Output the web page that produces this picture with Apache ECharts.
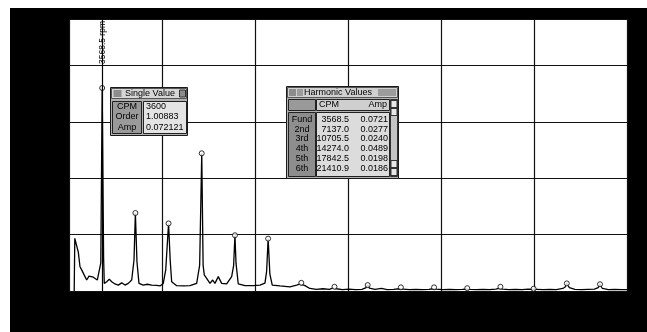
<!DOCTYPE html>
<html>
<head>
<meta charset="utf-8">
<script src="https://cdn.jsdelivr.net/npm/echarts@6/dist/echarts.min.js"></script>
<style>
  html, body { margin: 0; padding: 0; background: #fff; }
  #frame { position: absolute; left: 10px; top: 8px; width: 637px; height: 324px; background: #000; }
  #chart { position: absolute; left: 0; top: 0; width: 647px; height: 332px; }
</style>
</head>
<body>
<div id="frame"></div>
<div id="chart"></div>
<script>
// Vibration spectrum: frequency in CPM, amplitude
const spectrumCpm = [
  560, 624, 828, 1000, 1183, 1365, 1537, 1720, 1903, 2150, 2365, 2612, 2795, 3042, 3257,
  3420, 3568.5, 3720,
  3795, 4053, 4332, 4590, 4945, 5300, 5665, 6020, 6375, 6740, 6990,
  7137, 7310, 7525, 7987, 8417, 8890, 9428, 9782, 10137, 10400,
  10705.5, 10880, 11040, 11578, 12287, 13008, 13728, 14050,
  14274, 14420, 14545, 14803, 15158, 15448, 15695, 16050, 16415, 16953, 17490, 17700,
  17842.5, 17960, 18200, 18920, 19812, 20533, 21070, 21250,
  21410.9, 21600, 21855, 22680, 23758, 24478, 24780,
  24979.5, 25150, 25370, 25900, 26600, 27300, 28000, 28350,
  28548, 28750, 29400, 30100, 30800, 31500, 31950,
  32116.5, 32300, 32900, 33600, 34200, 34900, 35500,
  35685, 35900, 36600, 37300, 38000, 38700, 39100,
  39253.5, 39450, 40200, 40900, 41600, 42300, 42650,
  42822, 43100, 43800, 44500, 45200, 45900, 46200,
  46390.5, 46650, 47300, 48000, 48700, 49400, 49800,
  49959, 50300, 51000, 51700, 52400, 53100, 53350,
  53527.5, 53800, 54400, 55100, 55800, 56500, 56900,
  57096, 57350, 58000, 58700, 59400, 60000
];
const spectrumAmp = [
  0, 0.0187, 0.0160, 0.0138, 0.0086, 0.0075, 0.0069, 0.0051, 0.0039, 0.0053, 0.0060, 0.0049, 0.0053, 0.0039, 0.0033,
  0.0100, 0.0721, 0.0120,
  0.0027, 0.0033, 0.0042, 0.0033, 0.0025, 0.0021, 0.0029, 0.0021, 0.0027, 0.0039, 0.0110,
  0.0277, 0.0103, 0.0027, 0.0021, 0.0024, 0.0021, 0.0020, 0.0018, 0.0027, 0.0075,
  0.0240, 0.0110, 0.0033, 0.0019, 0.0018, 0.0019, 0.0027, 0.0092,
  0.0489, 0.0092, 0.0057, 0.0045, 0.0027, 0.0039, 0.0027, 0.0051, 0.0027, 0.0025, 0.0051, 0.0090,
  0.0198, 0.0098, 0.0025, 0.0019, 0.0019, 0.0021, 0.0028, 0.0070,
  0.0186, 0.0060, 0.0021, 0.0018, 0.0015, 0.0021, 0.0024,
  0.0029, 0.0022, 0.0019, 0.0009, 0.0006, 0.0008, 0.0006, 0.0010,
  0.0015, 0.0008, 0.0005, 0.0007, 0.0005, 0.0006, 0.0012,
  0.0021, 0.0010, 0.0006, 0.0009, 0.0005, 0.0006, 0.0008,
  0.0013, 0.0007, 0.0005, 0.0006, 0.0005, 0.0006, 0.0008,
  0.0013, 0.0007, 0.0005, 0.0006, 0.0005, 0.0006, 0.0007,
  0.0010, 0.0006, 0.0005, 0.0006, 0.0005, 0.0007, 0.0009,
  0.0015, 0.0007, 0.0005, 0.0006, 0.0005, 0.0007, 0.0006,
  0.0008, 0.0006, 0.0005, 0.0006, 0.0005, 0.0009, 0.0014,
  0.0027, 0.0012, 0.0006, 0.0005, 0.0006, 0.0007, 0.0012,
  0.0024, 0.0009, 0.0005, 0.0006, 0.0005, 0.0005
];

// Harmonic markers (orders 1..16)
const harmonicCpm = [3568.5, 7137, 10705.5, 14274, 17842.5, 21410.9, 24979.5, 28548,
  32116.5, 35685, 39253.5, 42822, 46390.5, 49959, 53527.5, 57096];
const harmonicAmp = [0.0721, 0.0277, 0.0240, 0.0489, 0.0198, 0.0186, 0.0029, 0.0015,
  0.0021, 0.0013, 0.0013, 0.0010, 0.0015, 0.0008, 0.0027, 0.0024];

const cursorCpm = 3568.5;
const cursorText = '3568.5 rpm';

// Single value readout
const singleTitle = 'Single Value';
const singleLabels = ['CPM', 'Order', 'Amp'];
const singleValues = ['3600', '1.00883', '0.072121'];

// Harmonic readout table
const harmonicTitle = 'Harmonic Values';
const harmonicHeaders = ['CPM', 'Amp'];
const harmonicNames = ['Fund', '2nd', '3rd', '4th', '5th', '6th'];
const harmonicCpmText = ['3568.5', '7137.0', '10705.5', '14274.0', '17842.5', '21410.9'];
const harmonicAmpText = ['0.0721', '0.0277', '0.0240', '0.0489', '0.0198', '0.0186'];

const FONT = '"Liberation Sans Narrow", "Liberation Sans", Arial, sans-serif';

function rect(x, y, w, h, fill, stroke) {
  return { type: 'rect', z: 100, silent: true,
    shape: { x: x, y: y, width: w, height: h },
    style: { fill: fill, stroke: stroke || null, lineWidth: 1 } };
}
function text(x, y, str, align, size) {
  return { type: 'text', z: 101, silent: true, x: x, y: y,
    style: { text: str, fill: '#000', fontSize: size || 9, fontFamily: FONT,
      align: align || 'left', verticalAlign: 'middle' } };
}

const graphics = [];
// Single Value panel
graphics.push(rect(110.5, 87.5, 77, 48, '#b2b2b2', '#1a1a1a'));
graphics.push(rect(111.5, 88.5, 75, 10, '#d6d6d6', '#555'));
graphics.push(rect(113.5, 90, 8, 7, '#8c8c8c', null));
graphics.push(rect(179.5, 90, 6, 7, '#8c8c8c', '#333'));
graphics.push(text(150, 93.8, singleTitle, 'center', 9));
graphics.push(rect(112.5, 101.5, 29, 32, '#9a9a9a', '#222'));
graphics.push(rect(143.5, 101.5, 43, 32, '#e4e4e4', '#222'));
singleLabels.forEach(function (s, i) {
  graphics.push(text(127, 106.5 + i * 10.5, s, 'center', 9));
  graphics.push(text(146, 106.5 + i * 10.5, singleValues[i], 'left', 9));
});

// Harmonic Values panel
graphics.push(rect(286.5, 86.5, 112, 92, '#b2b2b2', '#1a1a1a'));
graphics.push(rect(287.5, 87.5, 110, 10, '#d0d0d0', '#555'));
graphics.push(rect(289, 89, 7, 7, '#8c8c8c', null));
graphics.push(rect(297, 89, 6, 7, '#9c9c9c', null));
graphics.push(rect(378, 89, 18, 7, '#9c9c9c', null));
graphics.push(text(338, 92.8, harmonicTitle, 'center', 9));
graphics.push(rect(288.5, 99.5, 27, 11, '#9a9a9a', '#222'));
graphics.push(rect(316.5, 99.5, 73, 11, '#cfcfcf', '#222'));
graphics.push(text(319, 105, harmonicHeaders[0], 'left', 9));
graphics.push(text(387, 105, harmonicHeaders[1], 'right', 9));
graphics.push(rect(288.5, 112.5, 27, 64, '#8e8e8e', '#222'));
graphics.push(rect(316.5, 112.5, 73, 64, '#dcdcdc', '#222'));
graphics.push(rect(390.5, 99.5, 7, 77, '#c4c4c4', '#333'));
graphics.push(rect(391, 100.5, 6, 7, '#e8e8e8', '#333'));
graphics.push(rect(391, 108.5, 6, 7, '#e8e8e8', '#333'));
graphics.push(rect(391, 160.5, 6, 7, '#e8e8e8', '#333'));
graphics.push(rect(391, 168.5, 6, 7, '#e8e8e8', '#333'));
harmonicNames.forEach(function (s, i) {
  const yy = 119.3 + i * 9.8;
  graphics.push(text(302, yy, s, 'center', 9));
  graphics.push(text(349, yy, harmonicCpmText[i], 'right', 9));
  graphics.push(text(388, yy, harmonicAmpText[i], 'right', 9));
});

const chart = echarts.init(document.getElementById('chart'), null, { renderer: 'canvas' });
chart.setOption({
  animation: false,
  backgroundColor: 'transparent',
  grid: { left: 69, top: 19, width: 558, height: 272, show: true,
    backgroundColor: '#fff', borderWidth: 0 },
  xAxis: {
    type: 'value', min: 0, max: 60000, interval: 10000,
    axisLine: { show: false }, axisTick: { show: false }, axisLabel: { show: false },
    splitLine: { show: true, lineStyle: { color: '#111', width: 1.2 } }
  },
  yAxis: {
    type: 'value', min: 0, max: 0.0966, interval: 0.02,
    axisLine: { show: false }, axisTick: { show: false }, axisLabel: { show: false },
    splitLine: { show: true, lineStyle: { color: '#111', width: 1.2 } }
  },
  series: [
    {
      type: 'line',
      data: spectrumCpm.map(function (c, i) { return [c, spectrumAmp[i]]; }),
      showSymbol: false,
      symbol: 'none',
      lineStyle: { color: '#000', width: 1.3 },
      silent: true,
      markLine: {
        silent: true,
        symbol: 'none',
        lineStyle: { color: '#000', width: 1.2, type: 'solid' },
        label: {
          show: true, position: 'insideEnd', distance: 2,
          formatter: cursorText, color: '#000', fontSize: 8.5, fontFamily: FONT
        },
        data: [{ xAxis: cursorCpm }]
      }
    },
    {
      type: 'scatter',
      data: harmonicCpm.map(function (c, i) { return [c, harmonicAmp[i]]; }),
      symbol: 'circle',
      symbolSize: 5,
      itemStyle: { color: '#fff', borderColor: '#000', borderWidth: 1 },
      silent: true,
      z: 3
    }
  ],
  graphic: graphics
});
</script>
</body>
</html>
